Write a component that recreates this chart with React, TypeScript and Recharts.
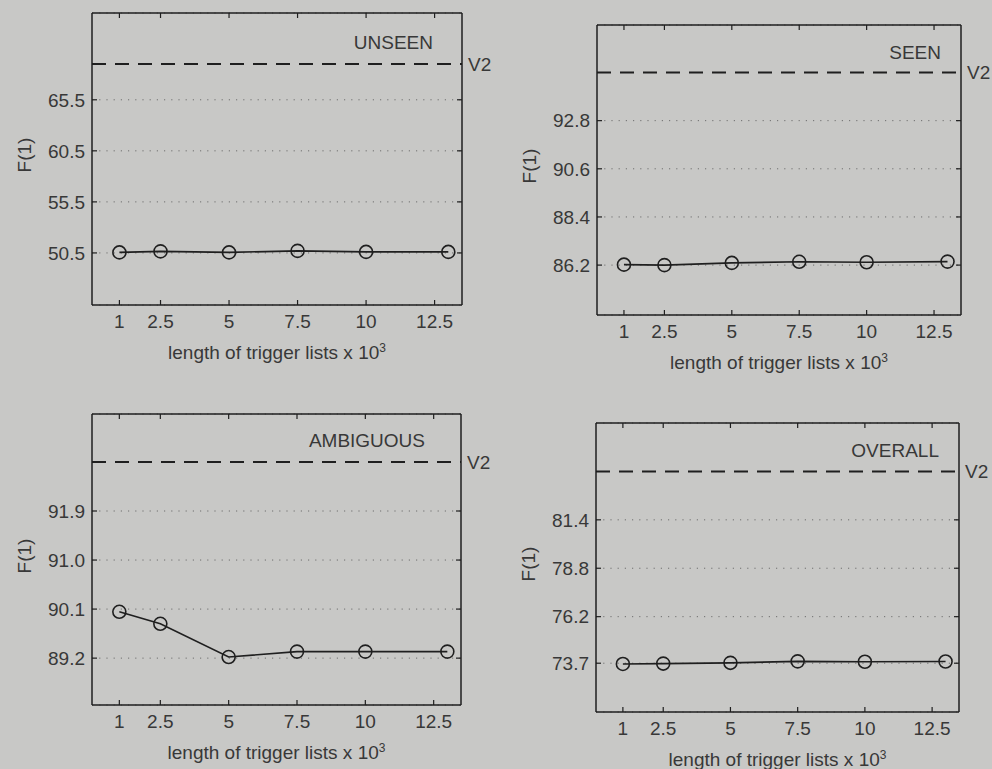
import React from "react";
import { CartesianGrid, Line, LineChart, ReferenceLine, XAxis, YAxis } from "recharts";

// trigger list length (x 10^3) and the F(1) scores per test subset
const triggerLengths = [1, 2.5, 5, 7.5, 10, 13];
const xTicks = [1, 2.5, 5, 7.5, 10, 12.5];

const unseenF1 = [50.55, 50.65, 50.55, 50.7, 50.6, 50.6];
const seenF1 = [86.22, 86.2, 86.3, 86.35, 86.33, 86.36];
const ambiguousF1 = [90.05, 89.83, 89.22, 89.32, 89.32, 89.32];
const overallF1 = [73.66, 73.68, 73.72, 73.8, 73.78, 73.79];

const unseenTicks = [50.5, 55.5, 60.5, 65.5];
const seenTicks = [86.2, 88.4, 90.6, 92.8];
const ambiguousTicks = [89.2, 90.1, 91.0, 91.9];
const overallTicks = [73.7, 76.2, 78.8, 81.4];

const unseenRange = [45.4, 74.0];
const seenRange = [83.92, 97.17];
const ambiguousRange = [88.34, 93.68];
const overallRange = [71.08, 86.6];

// V2 baseline score for each subset
const unseenV2 = 69.0;
const seenV2 = 95.0;
const ambiguousV2 = 92.8;
const overallV2 = 84.0;

const FONT = '"Liberation Sans", Arial, Helvetica, sans-serif';
const INK = "#1f1f1f";
const TEXT = "#383838";
const BG = "#c8c8c6";

type Box = { left: number; top: number; width: number; height: number };

type PanelProps = {
  box: Box;
  values: number[];
  yTicks: number[];
  yRange: number[];
  v2: number;
  title: string;
  titleInset: number;
  titleDrop: number;
};

const AXIS_W = 90;
const TOP_H = 10;
const BOTTOM_H = 70;
const RIGHT_W = 10;
const RIGHT_PAD = 50;

function Panel({ box, values, yTicks, yRange, v2, title, titleInset, titleDrop }: PanelProps) {
  const rows = triggerLengths.map((len, i) => ({ len, f1: values[i] }));
  const chartW = AXIS_W + box.width + RIGHT_W + RIGHT_PAD;
  const chartH = TOP_H + box.height + BOTTOM_H;
  const axisLine = { stroke: INK, strokeWidth: 1.5 };
  const tickLine = { stroke: INK, strokeWidth: 1.2 };
  const tickText = { fill: TEXT, fontSize: 19, fontFamily: FONT };

  return (
    <>
      <div style={{ position: "absolute", left: box.left - AXIS_W, top: box.top - TOP_H }}>
        <LineChart
          width={chartW}
          height={chartH}
          data={rows}
          margin={{ top: 0, right: RIGHT_PAD, bottom: 0, left: 0 }}
          style={{ fontFamily: FONT }}
        >
          <CartesianGrid
            vertical={false}
            stroke="#6e6e6e"
            strokeWidth={1}
            strokeDasharray="1.2 6"
          />
          <XAxis
            dataKey="len"
            type="number"
            domain={[0, 13.5]}
            ticks={xTicks}
            interval={0}
            allowDataOverflow
            height={BOTTOM_H}
            tickSize={-5}
            tickMargin={15}
            axisLine={axisLine}
            tickLine={tickLine}
            tick={tickText}
          />
          <XAxis
            xAxisId="top"
            orientation="top"
            dataKey="len"
            type="number"
            domain={[0, 13.5]}
            ticks={xTicks}
            interval={0}
            allowDataOverflow
            height={TOP_H}
            tickSize={-5}
            axisLine={axisLine}
            tickLine={tickLine}
            tickFormatter={() => ""}
          />
          <YAxis
            type="number"
            domain={yRange}
            ticks={yTicks}
            interval={0}
            allowDataOverflow
            width={AXIS_W}
            tickSize={-5}
            tickMargin={12}
            axisLine={axisLine}
            tickLine={tickLine}
            tick={tickText}
            tickFormatter={(v: number) => v.toFixed(1)}
          />
          <YAxis
            yAxisId="right"
            orientation="right"
            type="number"
            domain={yRange}
            ticks={yTicks}
            interval={0}
            allowDataOverflow
            width={RIGHT_W}
            tickSize={-5}
            axisLine={axisLine}
            tickLine={tickLine}
            tickFormatter={() => ""}
          />
          <ReferenceLine
            y={v2}
            stroke={INK}
            strokeWidth={2}
            strokeDasharray="14 9"
            label={{ value: "V2", position: "right", offset: 6, fill: TEXT, fontSize: 19, fontFamily: FONT }}
          />
          <Line
            type="linear"
            dataKey="f1"
            stroke={INK}
            strokeWidth={1.6}
            dot={{ r: 6.5, stroke: INK, strokeWidth: 1.6, fill: "none" }}
            isAnimationActive={false}
          />
        </LineChart>
      </div>

      <div
        style={{
          position: "absolute",
          right: 992 - (box.left + box.width - titleInset),
          top: box.top + titleDrop,
          transform: "translateY(-50%)",
          fontFamily: FONT,
          fontSize: 19,
          lineHeight: 1,
          color: TEXT,
          whiteSpace: "nowrap",
        }}
      >
        {title}
      </div>

      <div
        style={{
          position: "absolute",
          left: box.left - 68,
          top: box.top + box.height / 2 - 4,
          transform: "translate(-50%, -50%) rotate(-90deg)",
          fontFamily: FONT,
          fontSize: 19,
          lineHeight: 1,
          color: TEXT,
          whiteSpace: "nowrap",
        }}
      >
        F(1)
      </div>

      <div
        style={{
          position: "absolute",
          left: box.left + box.width / 2,
          top: box.top + box.height + 46.5,
          transform: "translate(-50%, -50%)",
          fontFamily: FONT,
          fontSize: 19,
          lineHeight: 1,
          color: TEXT,
          whiteSpace: "nowrap",
        }}
      >
        length of trigger lists x 10<sup style={{ fontSize: 12, verticalAlign: "0.55em" }}>3</sup>
      </div>
    </>
  );
}

export default function App() {
  return (
    <div
      style={{
        position: "absolute",
        left: 0,
        top: 0,
        width: 992,
        height: 769,
        overflow: "hidden",
        background: BG,
      }}
    >
      <Panel
        box={{ left: 92, top: 13, width: 370, height: 292 }}
        values={unseenF1}
        yTicks={unseenTicks}
        yRange={unseenRange}
        v2={unseenV2}
        title="UNSEEN"
        titleInset={29}
        titleDrop={29}
      />
      <Panel
        box={{ left: 597, top: 25, width: 364, height: 290 }}
        values={seenF1}
        yTicks={seenTicks}
        yRange={seenRange}
        v2={seenV2}
        title="SEEN"
        titleInset={20}
        titleDrop={27}
      />
      <Panel
        box={{ left: 92, top: 414, width: 369, height: 291 }}
        values={ambiguousF1}
        yTicks={ambiguousTicks}
        yRange={ambiguousRange}
        v2={ambiguousV2}
        title="AMBIGUOUS"
        titleInset={36}
        titleDrop={26}
      />
      <Panel
        box={{ left: 596, top: 423, width: 363, height: 289 }}
        values={overallF1}
        yTicks={overallTicks}
        yRange={overallRange}
        v2={overallV2}
        title="OVERALL"
        titleInset={20}
        titleDrop={27}
      />
    </div>
  );
}
